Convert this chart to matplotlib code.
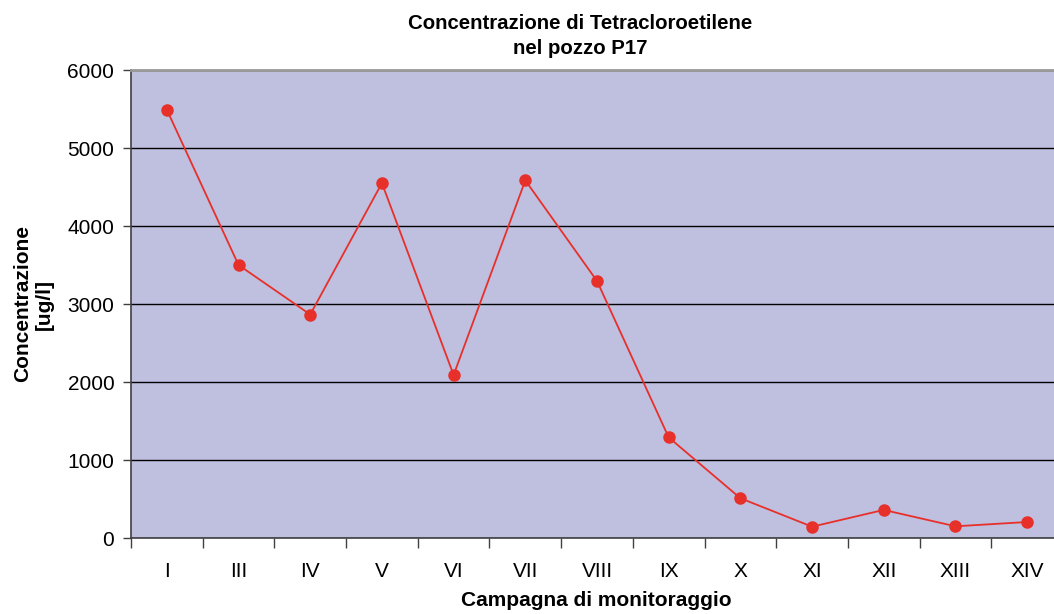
import numpy as np
import matplotlib.pyplot as plt

plt.rcParams['font.family'] = ['Liberation Sans', 'DejaVu Sans']

campagne = ["I", "III", "IV", "V", "VI", "VII", "VIII", "IX", "X", "XI", "XII", "XIII", "XIV"]
concentrazione = [5490, 3500, 2865, 4550, 2090, 4585, 3295, 1290, 510, 145, 360, 150, 205]
y_ticks = [0, 1000, 2000, 3000, 4000, 5000, 6000]

fig = plt.figure(figsize=(10.54, 6.14), dpi=100)
ax = fig.add_axes([131 / 1054, 1 - 538 / 614, 932 / 1054, 468 / 614])
ax.set_facecolor("#bfbfdf")

x = np.arange(len(campagne))
ax.plot(x, concentrazione, color="#e8302a", lw=1.3, marker="o", ms=8, zorder=3)

ax.set_xlim(-0.5, len(campagne) - 0.5)
ax.set_ylim(0, 6000)
ax.set_yticks(y_ticks)
ax.tick_params(axis="y", labelsize=15, length=6, width=1, color="#404040", pad=6)
ax.yaxis.grid(True, color="black", lw=1)
ax.set_axisbelow(True)

# ticks at category boundaries, labels at centres
ax.set_xticks(np.arange(len(campagne) + 1) - 0.5)
ax.set_xticklabels([])
ax.tick_params(axis="x", which="major", length=7, width=1, color="#404040", direction="out")
ax.set_xticks(x, minor=True)
ax.set_xticklabels(campagne, minor=True, fontsize=15)
ax.tick_params(axis="x", which="minor", length=0, pad=17)

for s in ["left", "bottom"]:
    ax.spines[s].set_color("#404040")
    ax.spines[s].set_linewidth(1.2)
ax.spines["top"].set_color("#999999")
ax.spines["top"].set_linewidth(2)
ax.spines["right"].set_visible(False)

ax.set_ylabel("Concentrazione\n[ug/l]", fontsize=15, fontweight="bold", labelpad=10, linespacing=1.15)
fig.text(596 / 1054, 1 - 601 / 614, "Campagna di monitoraggio",
         ha="center", va="center", fontsize=15, fontweight="bold")
fig.text(580 / 1054, 1 - 36 / 614, "Concentrazione di Tetracloroetilene\nnel pozzo P17",
         ha="center", va="center", fontsize=14.7, fontweight="bold", linespacing=1.45)

fig.savefig("out.png", dpi=100)
